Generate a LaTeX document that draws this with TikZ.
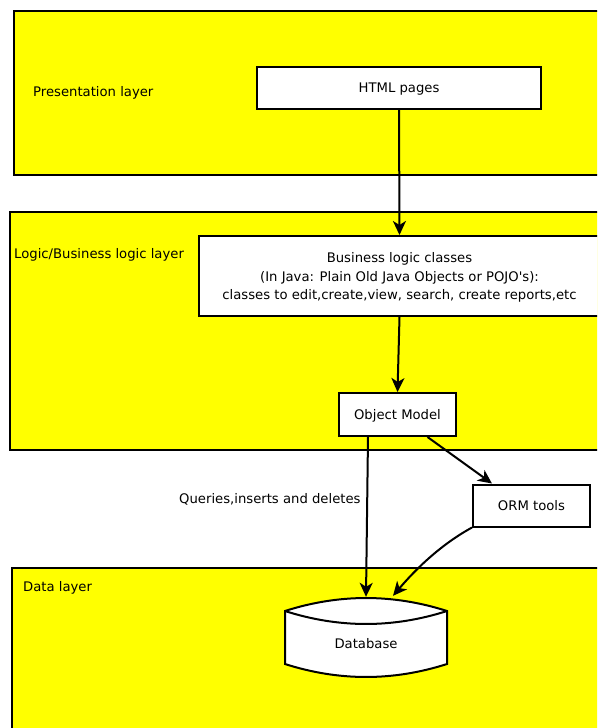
\documentclass[tikz,border=0pt]{standalone}
\usepackage{fontspec}
\setmainfont{DejaVu Sans}
\usetikzlibrary{arrows.meta,calc}
\definecolor{layeryellow}{HTML}{FFFF00}
\tikzset{
  layer/.style={draw=black, line width=2pt, fill=layeryellow, anchor=north west, inner sep=0pt},
  box/.style={draw=black, line width=2pt, fill=white, inner sep=0pt, text depth=0pt, font=\fontsize{13.2}{18.8}\selectfont, align=center},
  lbl/.style={inner sep=0pt, anchor=west, font=\fontsize{13.2}{15}\selectfont},
  flow/.style={line width=2pt, -{Stealth[length=14pt, width=13pt, inset=4pt]}},
}
\begin{document}
\begin{tikzpicture}[x=1pt, y=-1pt]
  \useasboundingbox (0,0) rectangle (597,728);
  \clip (0,0) rectangle (597,728);

  % layers
  \node[layer, minimum width=607pt, minimum height=164pt] (pres) at (13,10) {};
  \node[layer, minimum width=611pt, minimum height=238pt] (logic) at (9,211) {};
  \node[layer, minimum width=609pt, minimum height=180pt] (data) at (11,567) {};

  \node[lbl] (preslbl) at (33,93) {Presentation layer};
  \node[lbl] (logiclbl) at (14,255) {Logic/Business logic layer};
  \node[lbl] (datalbl) at (23,588) {Data layer};
  \node[lbl] (querylbl) at (179,499) {Queries,inserts and deletes};

  % boxes
  \node[box, minimum width=284pt, minimum height=42pt] (html) at (399,88) {HTML pages};
  \node[box, minimum width=401pt, minimum height=80pt] (biz) at (399.5,276)
    {Business logic classes\\(In Java: Plain Old Java Objects or POJO\textquotesingle s):\\classes to edit,create,view, search, create reports,etc};
  \node[box, minimum width=117pt, minimum height=43pt] (om) at (397.5,414.5) {Object Model};
  \node[box, minimum width=117pt, minimum height=42pt] (orm) at (531.5,505.5) {ORM tools};

  % database drum
  \node[minimum width=162pt, minimum height=79pt, inner sep=0pt] (db) at (366,637.5) {};
  \draw[line width=2pt, fill=white]
    (285,611) .. controls (339,593.7) and (393,593.7) .. (447,611)
    -- (447,664) .. controls (393,681.3) and (339,681.3) .. (285,664) -- cycle;
  \draw[line width=2pt] (285,611) .. controls (339,628.3) and (393,628.3) .. (447,611);
  \node[inner sep=0pt, font=\fontsize{13.2}{15}\selectfont] (dblbl) at ([yshift=-6pt]db.center) {Database};

  % connectors
  \draw[flow] (html.south) -- (biz.north);
  \draw[flow] (biz.south) -- (om.north);
  \draw[flow] ([xshift=-29.5pt]om.south) -- ([xshift=0pt, yshift=1pt]db.north);
  \draw[flow] ([xshift=30pt]om.south) -- ([xshift=-39.5pt]orm.north);
  \draw[flow] (orm.south west) .. controls (440,545) and (415,570) .. ([xshift=27pt, yshift=2pt]db.north);
\end{tikzpicture}
\end{document}
